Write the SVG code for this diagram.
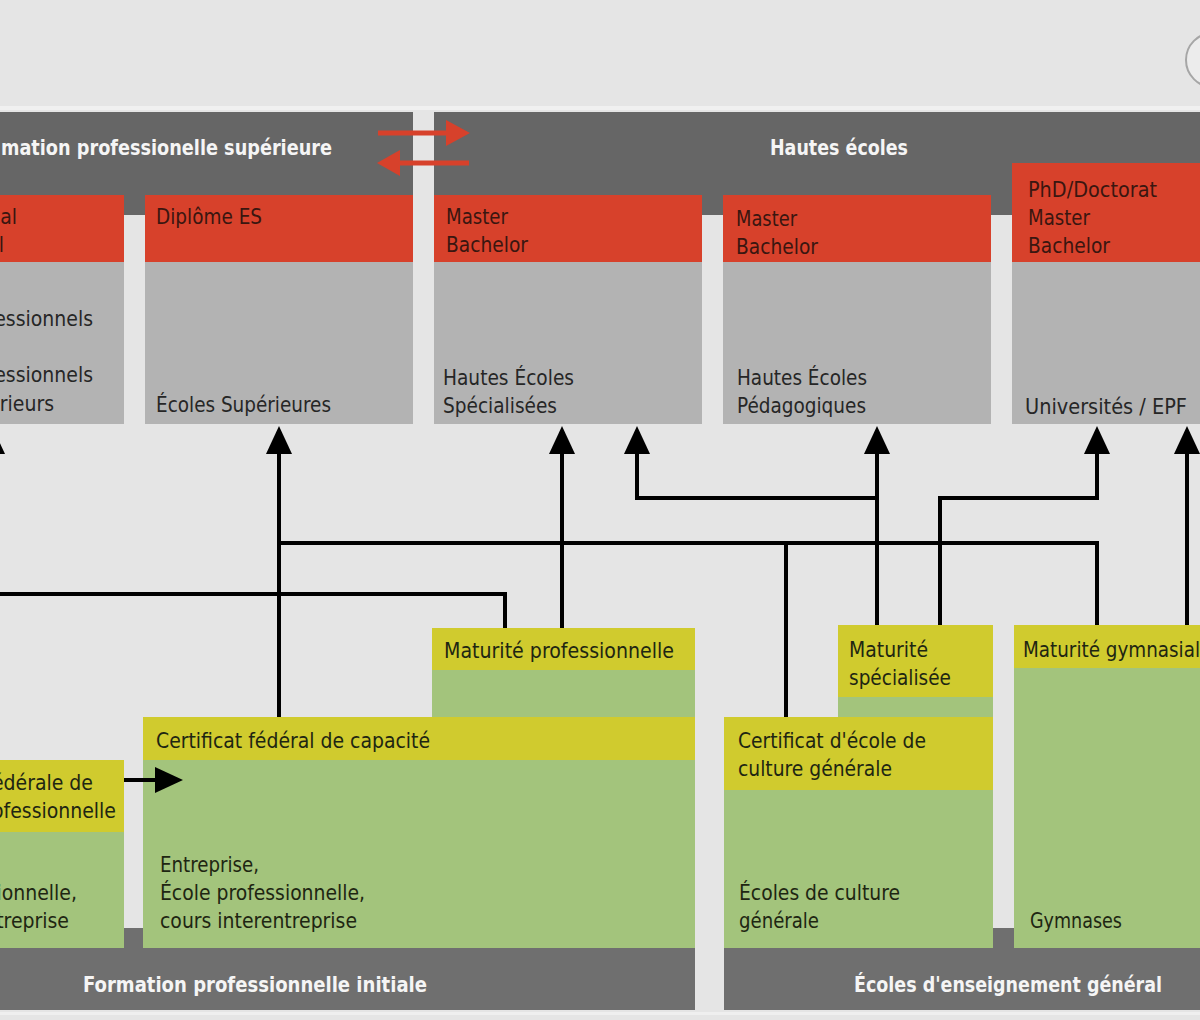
<svg xmlns="http://www.w3.org/2000/svg" width="1200" height="1020" viewBox="0 0 1200 1020">
<defs>
<style>
.bg{fill:#e5e5e5}
.dark{fill:#666666}
.bar{fill:#6f6f6f}
.red{fill:#d7412b}
.gray{fill:#b3b3b3}
.yel{fill:#d0cb2e}
.grn{fill:#a3c47c}
text{font-family:"DejaVu Sans Condensed","DejaVu Sans","Liberation Sans",sans-serif;font-size:21px;font-stretch:condensed}
.hd{fill:#f5f5f5;font-weight:bold}
.rt{fill:#3a1610}
.gt{fill:#262626}
.yt{fill:#1e2612}
.con{fill:none;stroke:#000;stroke-width:4}
.rar{stroke:#d7412b;stroke-width:5;fill:none}
</style>
<marker id="ah" markerUnits="userSpaceOnUse" markerWidth="28" markerHeight="26" viewBox="0 0 28 26" refX="0" refY="13" orient="auto">
<path d="M0,0 L28,13 L0,26 Z" fill="#000"/>
</marker>
</defs>
<rect class="bg" x="0" y="0" width="1200" height="1020"/>
<rect x="0" y="106" width="1200" height="4" fill="#f0f0f0"/>
<rect x="0" y="1012" width="1200" height="3" fill="#efefef"/>
<circle cx="1213" cy="60" r="27" fill="#ececec" stroke="#a6a6a6" stroke-width="2"/>

<g id="fps-header">
<rect class="dark" x="0" y="112" width="413" height="103"/>
<text class="hd" x="1" y="155" textLength="331" lengthAdjust="spacingAndGlyphs">mation professionelle supérieure</text>
</g>
<g id="he-header">
<rect class="dark" x="434" y="112" width="766" height="103"/>
<text class="hd" x="770" y="155" textLength="138" lengthAdjust="spacingAndGlyphs">Hautes écoles</text>
</g>
<g id="exchange-arrows">
<path class="rar" d="M378,133 H448"/>
<polygon points="446,120 470,133 446,146" fill="#d7412b"/>
<path class="rar" d="M400,163 H469"/>
<polygon points="400,150 377,163 400,176" fill="#d7412b"/>
</g>

<g id="ep-box">
<rect class="red" x="-10" y="195" width="134" height="67"/>
<rect class="gray" x="-10" y="262" width="134" height="162"/>
<text class="rt" x="17" y="224" text-anchor="end">al</text>
<text class="rt" x="4" y="252" text-anchor="end">l</text>
<text class="gt" x="93" y="326" text-anchor="end">essionnels</text>
<text class="gt" x="93" y="382" text-anchor="end">essionnels</text>
<text class="gt" x="54" y="411" text-anchor="end">érieurs</text>
</g>
<g id="es-box">
<rect class="red" x="145" y="195" width="268" height="67"/>
<rect class="gray" x="145" y="262" width="268" height="162"/>
<text class="rt" x="156" y="224" textLength="106" lengthAdjust="spacingAndGlyphs">Diplôme ES</text>
<text class="gt" x="156" y="412" textLength="175" lengthAdjust="spacingAndGlyphs">Écoles Supérieures</text>
</g>
<g id="hes-box">
<rect class="red" x="434" y="195" width="268" height="67"/>
<rect class="gray" x="434" y="262" width="268" height="162"/>
<text class="rt" x="446" y="224" textLength="62" lengthAdjust="spacingAndGlyphs">Master</text>
<text class="rt" x="446" y="252" textLength="82" lengthAdjust="spacingAndGlyphs">Bachelor</text>
<text class="gt" x="443" y="385" textLength="131" lengthAdjust="spacingAndGlyphs">Hautes Écoles</text>
<text class="gt" x="443" y="413" textLength="114" lengthAdjust="spacingAndGlyphs">Spécialisées</text>
</g>
<g id="hep-box">
<rect class="red" x="723" y="195" width="268" height="67"/>
<rect class="gray" x="723" y="262" width="268" height="162"/>
<text class="rt" x="736" y="226" textLength="61" lengthAdjust="spacingAndGlyphs">Master</text>
<text class="rt" x="736" y="254" textLength="82" lengthAdjust="spacingAndGlyphs">Bachelor</text>
<text class="gt" x="737" y="385" textLength="130" lengthAdjust="spacingAndGlyphs">Hautes Écoles</text>
<text class="gt" x="737" y="413" textLength="129" lengthAdjust="spacingAndGlyphs">Pédagogiques</text>
</g>
<g id="uni-box">
<rect class="red" x="1012" y="163" width="200" height="99"/>
<rect class="gray" x="1012" y="262" width="200" height="162"/>
<text class="rt" x="1028" y="197" textLength="129" lengthAdjust="spacingAndGlyphs">PhD/Doctorat</text>
<text class="rt" x="1028" y="225" textLength="62" lengthAdjust="spacingAndGlyphs">Master</text>
<text class="rt" x="1028" y="253" textLength="82" lengthAdjust="spacingAndGlyphs">Bachelor</text>
<text class="gt" x="1025" y="414" textLength="162" lengthAdjust="spacingAndGlyphs">Universités / EPF</text>
</g>

<g id="fpi-base">
<rect class="bar" x="0" y="928" width="695" height="82"/>
<text class="hd" x="83" y="992" textLength="344" lengthAdjust="spacingAndGlyphs">Formation professionnelle initiale</text>
</g>
<g id="eeg-base">
<rect class="bar" x="724" y="928" width="476" height="82"/>
<text class="hd" x="854" y="992" textLength="308" lengthAdjust="spacingAndGlyphs">Écoles d'enseignement général</text>
</g>

<g id="afp-box">
<rect class="yel" x="-10" y="760" width="134" height="72"/>
<rect class="grn" x="-10" y="832" width="134" height="116"/>
<text class="yt" x="93" y="790" text-anchor="end">édérale de</text>
<text class="yt" x="116" y="818" text-anchor="end">ofessionnelle</text>
<text class="yt" x="77" y="900" text-anchor="end">ionnelle,</text>
<text class="yt" x="69" y="928" text-anchor="end">treprise</text>
</g>
<g id="cfc-box">
<rect class="yel" x="143" y="717" width="552" height="43"/>
<rect class="grn" x="143" y="760" width="552" height="188"/>
<text class="yt" x="156" y="748" textLength="274" lengthAdjust="spacingAndGlyphs">Certificat fédéral de capacité</text>
<text class="yt" x="160" y="872" textLength="99" lengthAdjust="spacingAndGlyphs">Entreprise,</text>
<text class="yt" x="160" y="900" textLength="205" lengthAdjust="spacingAndGlyphs">École professionnelle,</text>
<text class="yt" x="160" y="928" textLength="197" lengthAdjust="spacingAndGlyphs">cours interentreprise</text>
</g>
<g id="mp-box">
<rect class="yel" x="432" y="628" width="263" height="42"/>
<rect class="grn" x="432" y="670" width="263" height="47"/>
<text class="yt" x="444" y="658" textLength="230" lengthAdjust="spacingAndGlyphs">Maturité professionnelle</text>
</g>
<g id="cec-box">
<rect class="yel" x="724" y="717" width="269" height="73"/>
<rect class="grn" x="724" y="790" width="269" height="158"/>
<text class="yt" x="738" y="748" textLength="188" lengthAdjust="spacingAndGlyphs">Certificat d'école de</text>
<text class="yt" x="738" y="776" textLength="154" lengthAdjust="spacingAndGlyphs">culture générale</text>
<text class="yt" x="739" y="900" textLength="161" lengthAdjust="spacingAndGlyphs">Écoles de culture</text>
<text class="yt" x="739" y="928" textLength="80" lengthAdjust="spacingAndGlyphs">générale</text>
</g>
<g id="ms-box">
<rect class="yel" x="838" y="625" width="155" height="72"/>
<rect class="grn" x="838" y="697" width="155" height="20"/>
<text class="yt" x="849" y="657" textLength="79" lengthAdjust="spacingAndGlyphs">Maturité</text>
<text class="yt" x="849" y="685" textLength="102" lengthAdjust="spacingAndGlyphs">spécialisée</text>
</g>
<g id="mg-box">
<rect class="yel" x="1014" y="625" width="200" height="43"/>
<rect class="grn" x="1014" y="668" width="200" height="280"/>
<text class="yt" x="1023" y="657" textLength="177" lengthAdjust="spacingAndGlyphs">Maturité gymnasial</text>
<text class="yt" x="1030" y="928" textLength="92" lengthAdjust="spacingAndGlyphs">Gymnases</text>
</g>

<g id="connectors">
<path class="con" d="M505,628 V594 H-8 V454" marker-end="url(#ah)"/>
<path class="con" d="M279,717 V454" marker-end="url(#ah)"/>
<path class="con" d="M279,543 H1097 V625"/>
<path class="con" d="M786,543 V717"/>
<path class="con" d="M562,628 V454" marker-end="url(#ah)"/>
<path class="con" d="M877,625 V454" marker-end="url(#ah)"/>
<path class="con" d="M877,498 H637 V454" marker-end="url(#ah)"/>
<path class="con" d="M940,625 V498 H1097 V454" marker-end="url(#ah)"/>
<path class="con" d="M1187,625 V454" marker-end="url(#ah)"/>
<path class="con" d="M124,780 H155" marker-end="url(#ah)"/>
</g>
</svg>
